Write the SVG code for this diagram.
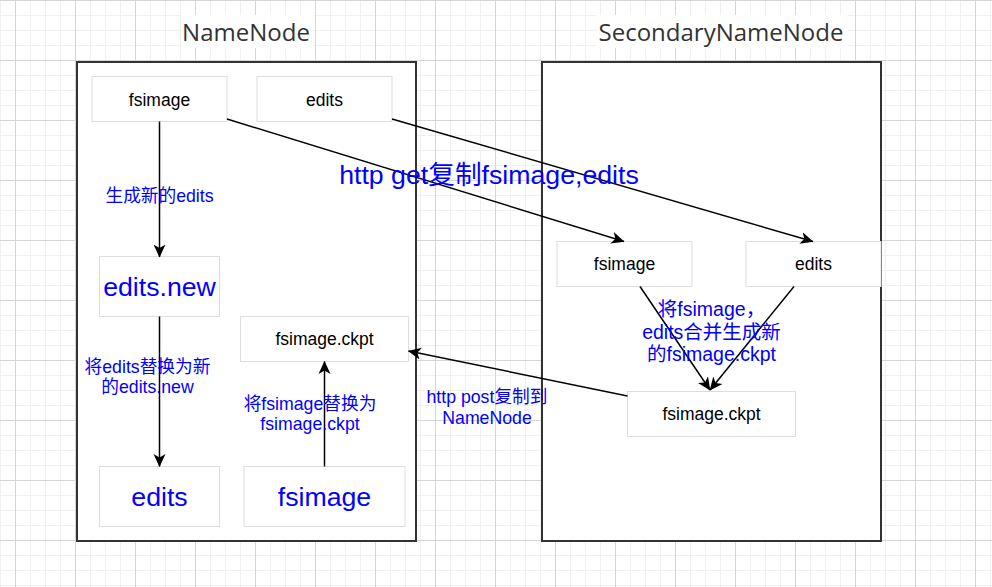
<svg xmlns="http://www.w3.org/2000/svg" width="992" height="587" viewBox="0 0 992 587">
<defs>
<pattern id="grid" patternUnits="userSpaceOnUse" x="15" y="0" width="60" height="60">
<rect width="60" height="60" fill="#ffffff"/>
<rect x="15" y="0" width="1" height="60" fill="#f0f0f0"/>
<rect x="30" y="0" width="1" height="60" fill="#f0f0f0"/>
<rect x="45" y="0" width="1" height="60" fill="#f0f0f0"/>
<rect x="0" y="15" width="60" height="1" fill="#f0f0f0"/>
<rect x="0" y="30" width="60" height="1" fill="#f0f0f0"/>
<rect x="0" y="45" width="60" height="1" fill="#f0f0f0"/>
<rect x="0" y="0" width="1" height="60" fill="#d6d6d6"/>
<rect x="0" y="0" width="60" height="1" fill="#d6d6d6"/>
</pattern>
<marker id="arr" viewBox="0 0 13 13" markerWidth="13" markerHeight="13" refX="12.5" refY="6.5" orient="auto" markerUnits="userSpaceOnUse">
<path d="M0,0.5 L13,6.5 L0,12.5 L3.5,6.5 z" fill="#000"/>
</marker>
</defs>
<style>
.cont{fill:#fff;stroke:#333;stroke-width:2}
.box{fill:#fff;stroke:#dddddd;stroke-width:1}
.title{font-family:"Open Sans","Noto Sans",sans-serif;font-size:24px;fill:#333;text-anchor:middle}
.t{font-family:"Liberation Sans",Arial,sans-serif;font-size:17.5px;fill:#000;text-anchor:middle}
.big{font-family:"Liberation Sans",Arial,sans-serif;font-size:26.7px;fill:#0000ff;text-anchor:middle}
.lbl{font-family:"Liberation Sans","Noto Sans CJK SC",sans-serif;font-size:17.7px;fill:#0000ff;text-anchor:middle}
.lblm{font-family:"Liberation Sans","Noto Sans CJK SC",sans-serif;font-size:19.5px;fill:#0000ff;text-anchor:middle}
.lblb{font-family:"Liberation Sans","Noto Sans CJK SC",sans-serif;font-size:26.7px;fill:#0000ff;text-anchor:middle}
.edge{fill:none;stroke:#000;stroke-width:1.5;marker-end:url(#arr)}
</style>
<rect width="992" height="587" fill="url(#grid)"/>

<g id="title-namenode">
<rect x="181" y="15" width="132" height="33" fill="#fff"/>
<text class="title" x="246" y="41">NameNode</text>
</g>
<g id="title-secondary">
<rect x="596" y="15" width="252" height="33" fill="#fff"/>
<text class="title" x="721" y="41">SecondaryNameNode</text>
</g>

<g id="namenode">
<rect class="cont" x="77" y="62" width="339" height="479"/>
</g>
<g id="secondarynamenode">
<rect class="cont" x="542" y="62" width="339" height="479"/>
</g>

<g id="nn-fsimage">
<rect class="box" x="92" y="76.5" width="135" height="45"/>
<text class="t" x="159.5" y="105.5">fsimage</text>
</g>
<g id="nn-edits">
<rect class="box" x="257" y="76.5" width="135" height="45"/>
<text class="t" x="324.5" y="105.5">edits</text>
</g>
<g id="nn-edits-new">
<rect class="box" x="99.5" y="256.5" width="120" height="60"/>
<text class="big" x="159.5" y="295.5">edits.new</text>
</g>
<g id="nn-fsimage-ckpt">
<rect class="box" x="240.5" y="316.5" width="168" height="45"/>
<text class="t" x="324.5" y="345">fsimage.ckpt</text>
</g>
<g id="nn-edits-bottom">
<rect class="box" x="99.5" y="466.5" width="120" height="60"/>
<text class="big" x="159.5" y="505.5">edits</text>
</g>
<g id="nn-fsimage-bottom">
<rect class="box" x="244" y="466.5" width="161" height="60"/>
<text class="big" x="324.5" y="505.5">fsimage</text>
</g>

<g id="snn-fsimage">
<rect class="box" x="557" y="241.5" width="135" height="45"/>
<text class="t" x="624.5" y="270">fsimage</text>
</g>
<g id="snn-edits">
<rect class="box" x="746" y="241.5" width="135" height="45"/>
<text class="t" x="813.5" y="270">edits</text>
</g>
<g id="snn-fsimage-ckpt">
<rect class="box" x="627.5" y="391.5" width="168" height="45"/>
<text class="t" x="711.5" y="420">fsimage.ckpt</text>
</g>

<g id="connectors">
<line class="edge" x1="159.5" y1="121.5" x2="159.5" y2="257"/>
<line class="edge" x1="159.5" y1="316.5" x2="159.5" y2="466.5"/>
<line class="edge" x1="324.5" y1="466.5" x2="324.5" y2="361.5"/>
<line class="edge" x1="227" y1="119" x2="624" y2="241.5"/>
<line class="edge" x1="392" y1="119" x2="813" y2="241.5"/>
<line class="edge" x1="640" y1="286.5" x2="710" y2="390"/>
<line class="edge" x1="794" y1="286.5" x2="710" y2="390"/>
<line class="edge" x1="627.5" y1="396" x2="408.5" y2="351"/>

<text class="lbl" x="159.5" y="202">生成新的edits</text>
<text class="lbl" x="147.5" y="373">将edits替换为新</text>
<text class="lbl" x="147.5" y="393">的edits.new</text>
<text class="lbl" x="310" y="410">将fsimage替换为</text>
<text class="lbl" x="310" y="430">fsimage.ckpt</text>
<text class="lblb" x="489" y="183.5">http get复制fsimage,edits</text>
<text class="lblm" x="711.5" y="316">将fsimage，</text>
<text class="lblm" x="711.5" y="339">edits合并生成新</text>
<text class="lblm" x="711.5" y="361">的fsimage.ckpt</text>
<text class="lbl" x="487" y="403">http post复制到</text>
<text class="lbl" x="487" y="424">NameNode</text>
</g>
</svg>
